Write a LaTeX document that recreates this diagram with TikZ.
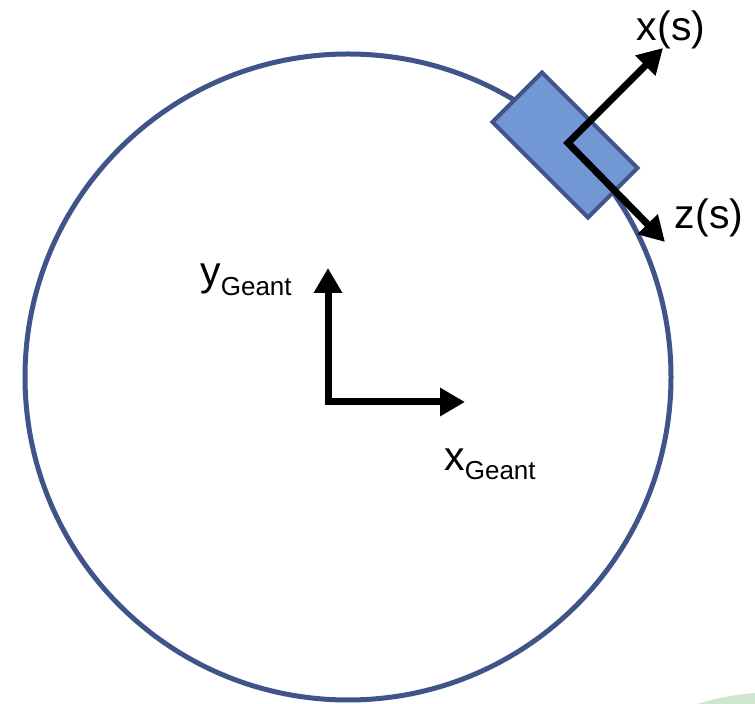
\documentclass[tikz,border=0pt]{standalone}
\usepackage{fontspec}
\setmainfont{Liberation Sans}
\usetikzlibrary{arrows.meta}
\definecolor{ringblue}{RGB}{64,84,138}
\definecolor{boxfill}{RGB}{114,151,213}
\definecolor{boxline}{RGB}{66,84,138}
\definecolor{paleleaf}{RGB}{206,230,206}
\begin{document}
\begin{tikzpicture}[x=1pt,y=1pt,
    axis/.style={line width=7pt, {Triangle[length=25pt,width=27pt]}-{Triangle[length=25pt,width=27pt]}},
    lbl/.style={inner sep=0pt, font=\fontsize{41}{44}\selectfont}]
  \useasboundingbox (0,0) rectangle (755,704);
  % faint green patch in the corner
  \fill[paleleaf] (697,0) .. controls (720,7) and (740,10) .. (755,11) -- (755,0) -- cycle;
  % ring
  \draw[ringblue, line width=5pt] (348,327) circle (323);
  % detector block
  \node[draw=boxline, fill=boxfill, line width=4pt, rotate=-45,
        minimum width=135pt, minimum height=70pt, inner sep=0pt] (block) at (565,559) {};
  % local frame
  \coordinate (s) at (568,561);
  \coordinate (xs) at (663,656);
  \coordinate (zs) at (665,462);
  \draw[axis] (xs) -- (s) -- (zs);
  \node[lbl] (xslab) at (671,674) {x(s)};
  \node[lbl] (zslab) at (709,486) {z(s)};
  % global frame
  \coordinate (g) at (328,302);
  \coordinate (yg) at (328,436);
  \coordinate (xg) at (465,302);
  \draw[axis] (yg) -- (g) -- (xg);
  \node[lbl] (yglab) at (246,424) {y\raisebox{-10pt}{\fontsize{26}{28}\selectfont Geant}};
  \node[lbl] (xglab) at (490,240) {x\raisebox{-9pt}{\fontsize{26}{28}\selectfont Geant}};
\end{tikzpicture}
\end{document}
